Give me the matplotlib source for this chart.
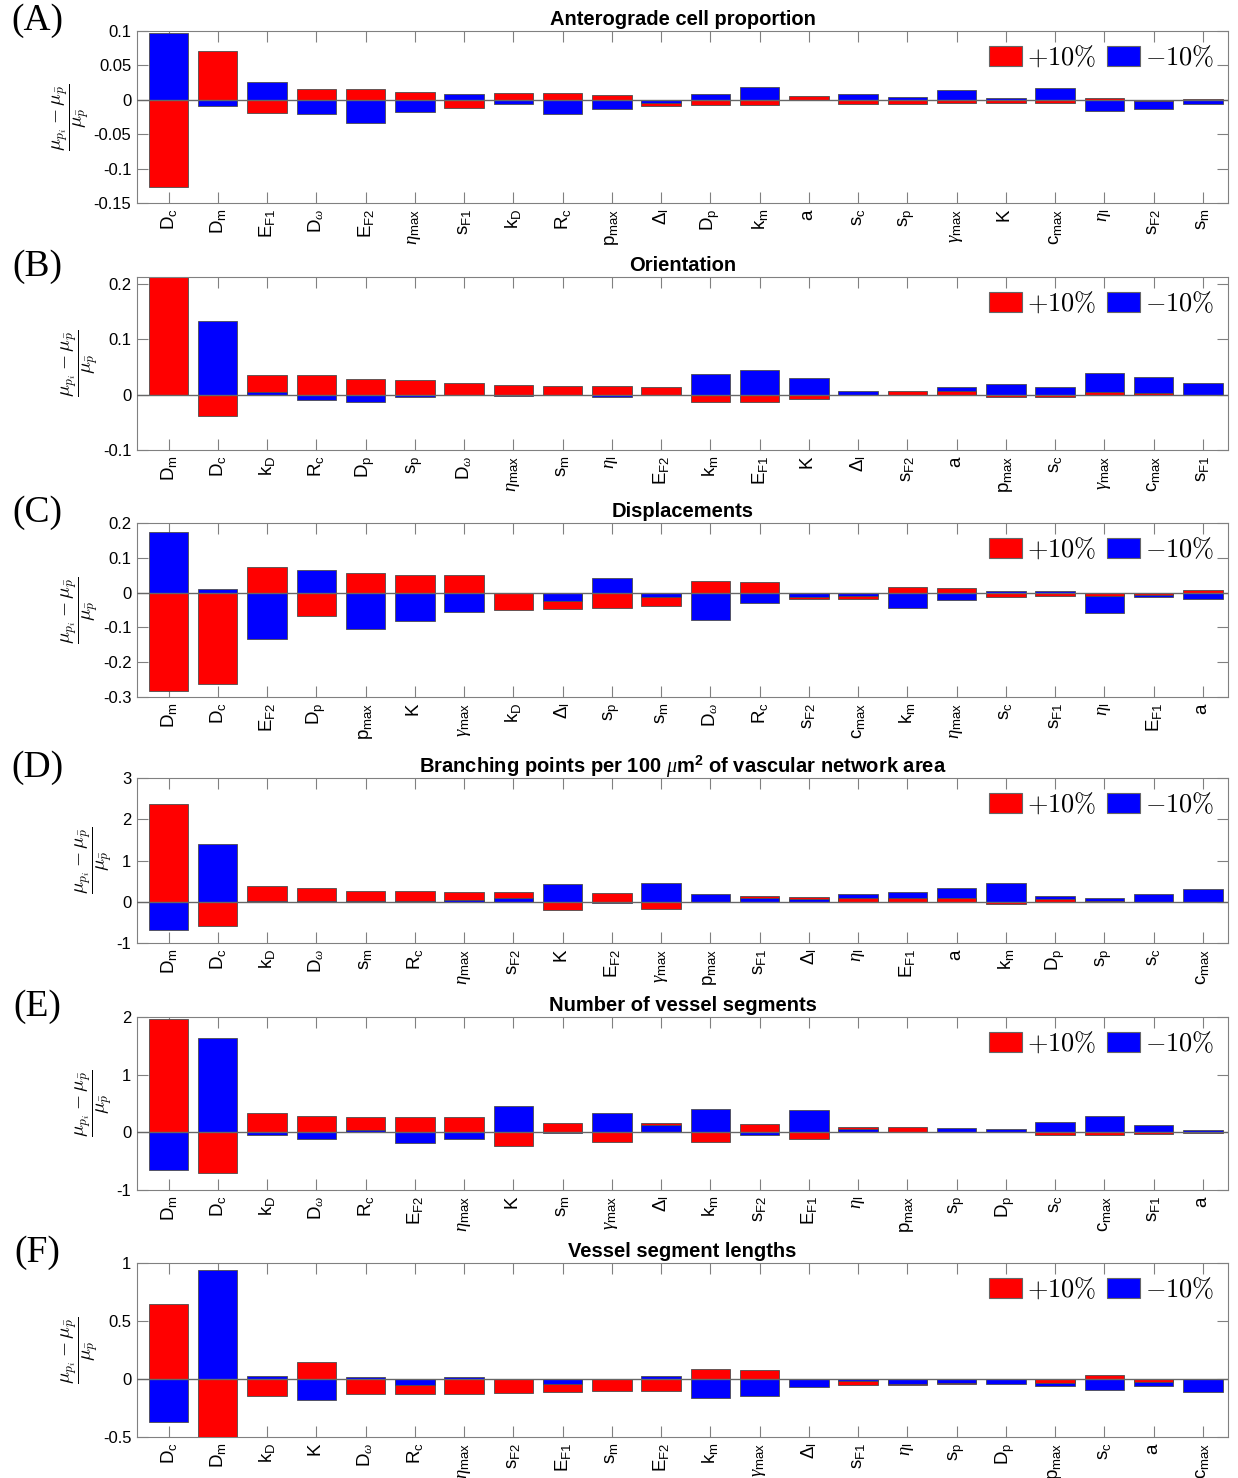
import matplotlib
matplotlib.use('Agg')
import numpy as np
import matplotlib.pyplot as plt
import matplotlib.patches as mpatches
from matplotlib.ticker import MultipleLocator, FuncFormatter

plt.rcParams['font.family'] = ['Liberation Sans', 'DejaVu Sans']
plt.rcParams['mathtext.fontset'] = 'custom'
plt.rcParams['mathtext.rm'] = 'Liberation Sans'
plt.rcParams['mathtext.it'] = 'Liberation Serif:italic'
plt.rcParams['mathtext.bf'] = 'Liberation Sans:bold'

# parameter names -> tick label text
names = {
    'Dc': r'$\mathrm{D_c}$', 'Dm': r'$\mathrm{D_m}$', 'Dp': r'$\mathrm{D_p}$',
    'Dw': r'$\mathrm{D}_\omega$', 'EF1': r'$\mathrm{E_{F1}}$', 'EF2': r'$\mathrm{E_{F2}}$',
    'etamax': r'$\eta_\mathrm{max}$', 'etal': r'$\eta_\mathrm{l}$',
    'gammamax': r'$\gamma_\mathrm{max}$', 'Deltal': r'$\Delta_\mathrm{l}$',
    'sF1': r'$\mathrm{s_{F1}}$', 'sF2': r'$\mathrm{s_{F2}}$', 'sm': r'$\mathrm{s_m}$',
    'sp': r'$\mathrm{s_p}$', 'sc': r'$\mathrm{s_c}$', 'kD': r'$\mathrm{k_D}$',
    'km': r'$\mathrm{k_m}$', 'Rc': r'$\mathrm{R_c}$', 'pmax': r'$\mathrm{p_{max}}$',
    'cmax': r'$\mathrm{c_{max}}$', 'a': r'$\mathrm{a}$', 'K': r'$\mathrm{K}$',
}

titles = ['Anterograde cell proportion', 'Orientation', 'Displacements',
          r'Branching points per 100 $\mu$m$^{\mathbf{2}}$ of vascular network area',
          'Number of vessel segments', 'Vessel segment lengths']
panel_tags = ['(A)', '(B)', '(C)', '(D)', '(E)', '(F)']

order_a = ['Dc', 'Dm', 'EF1', 'Dw', 'EF2', 'etamax', 'sF1', 'kD', 'Rc', 'pmax', 'Deltal',
           'Dp', 'km', 'a', 'sc', 'sp', 'gammamax', 'K', 'cmax', 'etal', 'sF2', 'sm']
plus_a = [-0.127, 0.071, -0.019, 0.016, 0.015, 0.012, -0.012, 0.010, 0.010, 0.007, -0.009,
          -0.008, -0.008, 0.005, -0.006, -0.006, -0.005, -0.005, -0.005, 0.002, -0.002, 0.001]
minus_a = [0.097, -0.009, 0.026, -0.021, -0.033, -0.018, 0.008, -0.006, -0.020, -0.014, -0.004,
           0.008, 0.018, 0.0, 0.008, 0.004, 0.014, 0.003, 0.017, -0.017, -0.013, -0.006]

order_b = ['Dm', 'Dc', 'kD', 'Rc', 'Dp', 'sp', 'Dw', 'etamax', 'sm', 'etal', 'EF2',
           'km', 'EF1', 'K', 'Deltal', 'sF2', 'a', 'pmax', 'sc', 'gammamax', 'cmax', 'sF1']
plus_b = [0.25, -0.039, 0.036, 0.036, 0.028, 0.027, 0.021, 0.017, 0.016, 0.015, 0.014,
          -0.013, -0.013, -0.008, 0.0, 0.007, 0.006, -0.005, -0.004, 0.004, 0.002, -0.001]
minus_b = [0.0, 0.133, 0.004, -0.009, -0.013, -0.005, -0.001, -0.003, -0.001, -0.004, 0.0,
           0.037, 0.044, 0.029, 0.007, 0.0, 0.013, 0.019, 0.013, 0.038, 0.032, 0.020]

order_c = ['Dm', 'Dc', 'EF2', 'Dp', 'pmax', 'K', 'gammamax', 'kD', 'Deltal', 'sp', 'sm',
           'Dw', 'Rc', 'sF2', 'cmax', 'km', 'etamax', 'sc', 'sF1', 'etal', 'EF1', 'a']
plus_c = [-0.282, -0.262, 0.075, -0.067, 0.057, 0.051, 0.050, -0.051, -0.048, -0.044, -0.039,
          0.034, 0.031, -0.018, -0.018, 0.016, 0.014, -0.013, -0.011, -0.011, -0.006, 0.007]
minus_c = [0.174, 0.011, -0.134, 0.064, -0.105, -0.081, -0.056, 0.0, -0.023, 0.041, -0.012,
           -0.078, -0.031, -0.013, -0.010, -0.045, -0.020, 0.004, 0.005, -0.059, -0.014, -0.018]

order_d = ['Dm', 'Dc', 'kD', 'Dw', 'sm', 'Rc', 'etamax', 'sF2', 'K', 'EF2', 'gammamax',
           'pmax', 'sF1', 'Deltal', 'etal', 'EF1', 'a', 'km', 'Dp', 'sp', 'sc', 'cmax']
plus_d = [2.38, -0.58, 0.37, 0.34, 0.25, 0.25, 0.24, 0.24, -0.21, 0.21, -0.18,
          0.0, 0.13, 0.12, 0.10, 0.09, 0.08, -0.06, 0.06, 0.03, 0.0, 0.0]
minus_d = [-0.69, 1.41, 0.02, 0.03, 0.01, 0.02, 0.05, 0.10, 0.42, -0.04, 0.45,
           0.18, 0.08, 0.07, 0.18, 0.24, 0.34, 0.45, 0.15, 0.09, 0.18, 0.30]

order_e = ['Dm', 'Dc', 'kD', 'Dw', 'Rc', 'EF2', 'etamax', 'K', 'sm', 'gammamax', 'Deltal',
           'km', 'sF2', 'EF1', 'etal', 'pmax', 'sp', 'Dp', 'sc', 'cmax', 'sF1', 'a']
plus_e = [1.96, -0.71, 0.33, 0.28, 0.27, 0.26, 0.26, -0.24, 0.17, -0.16, 0.16,
          -0.16, 0.14, -0.12, 0.09, 0.09, 0.0, 0.0, -0.05, -0.04, -0.03, -0.01]
minus_e = [-0.65, 1.63, -0.05, -0.11, 0.04, -0.18, -0.11, 0.45, -0.02, 0.34, 0.12,
           0.40, -0.04, 0.38, 0.06, 0.0, 0.08, 0.05, 0.18, 0.28, 0.12, 0.04]

order_f = ['Dc', 'Dm', 'kD', 'K', 'Dw', 'Rc', 'etamax', 'sF2', 'EF1', 'sm', 'EF2',
           'km', 'gammamax', 'Deltal', 'sF1', 'etal', 'sp', 'Dp', 'pmax', 'sc', 'a', 'cmax']
plus_f = [0.65, -0.60, -0.15, 0.15, -0.13, -0.13, -0.13, -0.12, -0.11, -0.10, -0.10,
          0.09, 0.08, 0.0, -0.055, -0.052, -0.047, 0.0, -0.032, 0.035, -0.029, 0.0]
minus_f = [-0.37, 0.94, 0.03, -0.18, 0.02, -0.05, 0.02, 0.0, -0.04, 0.0, 0.03,
           -0.16, -0.15, -0.07, -0.02, -0.044, -0.038, -0.041, -0.064, -0.096, -0.058, -0.11]

orders = [order_a, order_b, order_c, order_d, order_e, order_f]
plus_all = [plus_a, plus_b, plus_c, plus_d, plus_e, plus_f]
minus_all = [minus_a, minus_b, minus_c, minus_d, minus_e, minus_f]
ylims = [(-0.15, 0.1), (-0.1, 0.212), (-0.3, 0.2), (-1, 3), (-1, 2), (-0.5, 1.0)]
ysteps = [0.05, 0.1, 0.1, 1, 1, 0.5]

# layout in pixels
W, H = 1238, 1478
ax_left, ax_right = 137, 1228
ax_tops = [31, 277, 523, 778, 1017, 1263]
ax_bots = [203, 450, 697, 943, 1190, 1437]

fig = plt.figure(figsize=(W / 100, H / 100), dpi=100)
ylab = r'$\dfrac{\mu_{p_i} - \mu_{\bar{p}}}{\mu_{\bar{p}}}$'
fmt = FuncFormatter(lambda v, p: ('%g' % round(v, 4)).replace('\u2212', '-'))

for k in range(6):
    top, bot = ax_tops[k], ax_bots[k]
    ax = fig.add_axes([ax_left / W, 1 - bot / H, (ax_right - ax_left) / W, (bot - top) / H])
    n = len(orders[k])
    x = np.arange(1, n + 1)
    rb = ax.bar(x, plus_all[k], 0.8, color='red', edgecolor='0.3', linewidth=0.6)
    bb = ax.bar(x, minus_all[k], 0.8, color='blue', edgecolor='0.3', linewidth=0.6)
    # smaller bar drawn over the larger one
    for pr, pb, vr, vb in zip(rb, bb, plus_all[k], minus_all[k]):
        if abs(vr) <= abs(vb):
            pr.set_zorder(3); pb.set_zorder(2)
        else:
            pr.set_zorder(2); pb.set_zorder(3)
    ax.axhline(0, color='0.4', lw=1.0, zorder=4)

    ax.set_xlim(0.36, n + 0.51)
    ax.set_ylim(*ylims[k])
    ax.yaxis.set_major_locator(MultipleLocator(ysteps[k]))
    ax.yaxis.set_major_formatter(fmt)
    ax.set_xticks(x)
    ax.set_xticklabels([names[s] for s in orders[k]], rotation=90, fontsize=13.5)
    ax.tick_params(direction='in', length=8, width=0.8, color='0.5', top=True, right=True,
                   pad=4)
    ax.tick_params(axis='y', labelsize=12)
    for sp in ax.spines.values():
        sp.set_color('0.5')
        sp.set_linewidth(0.8)
    ax.set_ylabel(ylab, fontsize=14, math_fontfamily='cm', labelpad=2)
    ax.set_title(titles[k], fontsize=14.5, fontweight='bold', pad=4)

    handles = [mpatches.Patch(facecolor='red', edgecolor='0.4', lw=0.8),
               mpatches.Patch(facecolor='blue', edgecolor='0.4', lw=0.8)]
    leg = ax.legend(handles, [r'$+10\%$', r'$-10\%$'], loc='upper right', ncol=2,
                    frameon=False, fontsize=19, handlelength=1.25, handleheight=0.8,
                    handletextpad=0.2, columnspacing=0.4, borderaxespad=0.1)
    leg.set_zorder(6)
    for t in leg.get_texts():
        t.set_math_fontfamily('cm')

    fig.text(37 / W, 1 - (top - 10) / H, panel_tags[k], fontsize=27,
             family='Liberation Serif', ha='center', va='center')

fig.savefig('out.png', dpi=100)
